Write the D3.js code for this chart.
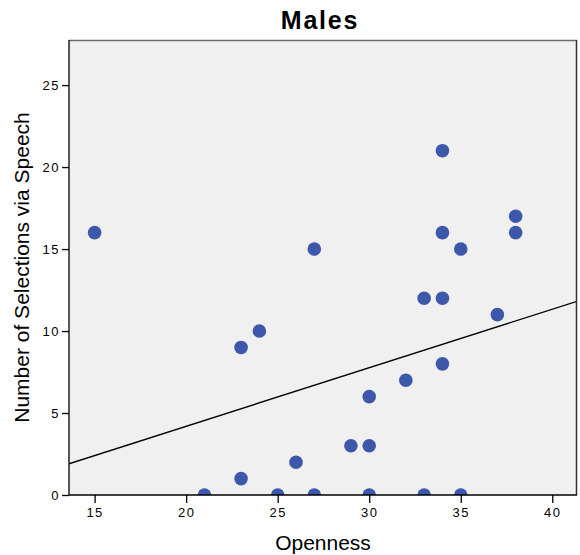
<!DOCTYPE html>
<html>
<head>
<meta charset="utf-8">
<script src="https://cdn.jsdelivr.net/npm/d3@7"></script>
<style>
  html, body { margin: 0; padding: 0; background: #ffffff; }
  svg { display: block; font-family: "Liberation Sans", Arial, Helvetica, sans-serif; }
</style>
</head>
<body>
<svg id="chart" width="580" height="555"></svg>
<script>
// Openness score and speech selections for each male participant
const openness   = [15, 21, 23, 23, 24, 25, 26, 27, 27, 29, 30, 30, 30, 32, 33, 33, 34, 34, 34, 34, 35, 35, 37, 38, 38];
const selections = [16,  0,  9,  1, 10,  0,  2, 15,  0,  3,  6,  3,  0,  7, 12,  0, 21, 16, 12,  8, 15,  0, 11, 17, 16];

// Axis ticks
const xTicks = [15, 20, 25, 30, 35, 40];
const yTicks = [0, 5, 10, 15, 20, 25];

// Fit line (intercept, slope)
const fitIntercept = -2.95;
const fitSlope = 0.357;

const title = "Males";
const xTitle = "Openness";
const yTitle = "Number of Selections via Speech";

const svg = d3.select("#chart");
const m = { left: 69, right: 577, top: 40, bottom: 495 };

const x = d3.scaleLinear().domain([13.6, 41.35]).range([m.left, m.right]);
const y = d3.scaleLinear().domain([0, 27.75]).range([m.bottom, m.top]);

// Plot background
svg.append("rect")
  .attr("x", m.left).attr("y", m.top)
  .attr("width", m.right - m.left).attr("height", m.bottom - m.top)
  .attr("fill", "#f0f0f0");

svg.append("clipPath").attr("id", "plotClip")
  .append("rect")
  .attr("x", m.left).attr("y", m.top)
  .attr("width", m.right - m.left).attr("height", m.bottom - m.top);

const plot = svg.append("g").attr("clip-path", "url(#plotClip)");

// Regression line across the full x range
const xd = x.domain();
plot.append("line")
  .attr("x1", x(xd[0])).attr("y1", y(fitIntercept + fitSlope * xd[0]))
  .attr("x2", x(xd[1])).attr("y2", y(fitIntercept + fitSlope * xd[1]))
  .attr("stroke", "#000").attr("stroke-width", 1.4);

// Points
plot.selectAll("circle")
  .data(openness.map((v, i) => [v, selections[i]]))
  .join("circle")
  .attr("cx", d => x(d[0]))
  .attr("cy", d => y(d[1]))
  .attr("r", 6.8)
  .attr("fill", "#3d57ab");

// Frame
svg.append("line").attr("x1", m.left).attr("x2", m.right).attr("y1", m.top + 0.5).attr("y2", m.top + 0.5)
  .attr("stroke", "#6a6a6a").attr("stroke-width", 1.5);
svg.append("line").attr("x1", m.right - 0.5).attr("x2", m.right - 0.5).attr("y1", m.top).attr("y2", m.bottom)
  .attr("stroke", "#333").attr("stroke-width", 1.5);

// Axes
const xAxis = d3.axisBottom(x).tickValues(xTicks).tickSize(8).tickSizeOuter(0).tickPadding(5);
const yAxis = d3.axisLeft(y).tickValues(yTicks).tickSize(7).tickSizeOuter(0).tickPadding(2);

const gx = svg.append("g").attr("transform", `translate(0,${m.bottom})`).call(xAxis);
const gy = svg.append("g").attr("transform", `translate(${m.left},0)`).call(yAxis);

[gx, gy].forEach(g => {
  g.select(".domain").attr("stroke", "#000").attr("stroke-width", 1.3);
  g.selectAll(".tick line").attr("stroke", "#000").attr("stroke-width", 1.3);
  g.selectAll(".tick text")
    .attr("fill", "#000")
    .style("font-size", "13px")
    .style("letter-spacing", "1.5px")
    .style("font-family", "'Liberation Sans', Arial, sans-serif");
});
gx.select(".domain").attr("d", `M${m.left},0H${m.right}`);
gy.select(".domain").attr("d", `M0,${m.bottom}V${m.top}`);

// Titles
svg.append("text")
  .attr("x", 320).attr("y", 29)
  .attr("text-anchor", "middle")
  .style("font-size", "25px").style("font-weight", "bold").style("letter-spacing", "1.8px")
  .text(title);

svg.append("text")
  .attr("x", (m.left + m.right) / 2).attr("y", 550)
  .attr("text-anchor", "middle")
  .style("font-size", "21px")
  .text(xTitle);

svg.append("text")
  .attr("transform", `translate(29,${(m.top + m.bottom) / 2}) rotate(-90)`)
  .attr("text-anchor", "middle")
  .style("font-size", "21px")
  .text(yTitle);
</script>
</body>
</html>
